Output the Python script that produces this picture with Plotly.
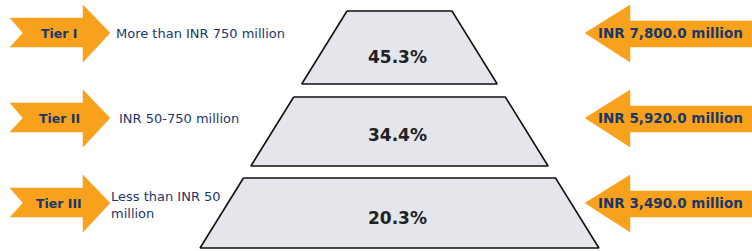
import plotly.graph_objects as go

# ---- data ----
tiers = ["Tier I", "Tier II", "Tier III"]
ranges = ["More than INR 750 million", "INR 50-750 million", "Less than INR 50<br>million"]
values_inr_mn = [7800.0, 5920.0, 3490.0]
shares_pct = [45.3, 34.4, 20.3]

# ---- styling / layout constants ----
W, H = 752, 251
ORANGE = "#F8A11D"
NAVY = "#1B3768"
FILL = "#E4E6EC"
row_center = [33, 118, 203]
range_dy = [0, 0, 2]
band_top = [11, 97, 178]
band_bot = [84, 166, 248]
pct_y = [57, 135, 218]
range_x = [114, 117, 109]
cx = 399.5
top_half = 52.5
slope = 0.62

fig = go.Figure()

def half(y):
    return top_half + (y - band_top[0]) * slope

for i in range(len(tiers)):
    yc = row_center[i]
    # left arrow (pointing right) with notched tail
    lx = [10, 83, 83, 110, 83, 83, 10, 23, 10]
    ly = [yc - 15, yc - 15, yc - 28, yc, yc + 29, yc + 14, yc + 14, yc, yc - 15]
    fig.add_trace(go.Scatter(x=lx, y=ly, fill="toself", fillcolor=ORANGE,
                             mode="lines", line=dict(color=ORANGE, width=0.5),
                             hoverinfo="skip", showlegend=False))
    # right arrow (pointing left)
    rx = [585, 630, 630, 760, 760, 630, 630, 585]
    ry = [yc, yc - 28, yc - 12, yc - 12, yc + 14, yc + 14, yc + 29, yc]
    fig.add_trace(go.Scatter(x=rx, y=ry, fill="toself", fillcolor=ORANGE,
                             mode="lines", line=dict(color=ORANGE, width=0.5),
                             hoverinfo="skip", showlegend=False))
    # pyramid band
    t, b = band_top[i], band_bot[i]
    px = [cx - half(t), cx + half(t), cx + half(b), cx - half(b), cx - half(t)]
    py = [t, t, b, b, t]
    fig.add_trace(go.Scatter(x=px, y=py, fill="toself", fillcolor=FILL,
                             mode="lines", line=dict(color="#111111", width=1.6),
                             hoverinfo="skip", showlegend=False))

    fig.add_annotation(x=59, y=yc, text="<b>%s</b>" % tiers[i], showarrow=False,
                       font=dict(family="DejaVu Sans", size=12.5, color=NAVY),
                       xanchor="center", yanchor="middle")
    fig.add_annotation(x=range_x[i], y=yc + range_dy[i], text=ranges[i],
                       showarrow=False, align="left",
                       font=dict(family="DejaVu Sans", size=13, color=NAVY),
                       xanchor="left", yanchor="middle")
    fig.add_annotation(x=670.5, y=yc, text="<b>INR {:,.1f} million</b>".format(values_inr_mn[i]),
                       showarrow=False,
                       font=dict(family="DejaVu Sans", size=13.5, color=NAVY),
                       xanchor="center", yanchor="middle")
    fig.add_annotation(x=cx - 2, y=pct_y[i], text="<b>{:.1f}%</b>".format(shares_pct[i]),
                       showarrow=False,
                       font=dict(family="DejaVu Sans", size=17, color="#222222"),
                       xanchor="center", yanchor="middle")

fig.update_layout(
    width=W, height=H,
    margin=dict(l=0, r=0, t=0, b=0),
    paper_bgcolor="white", plot_bgcolor="white",
    xaxis=dict(range=[0, W], visible=False, fixedrange=True),
    yaxis=dict(range=[H, 0], visible=False, fixedrange=True),
    showlegend=False,
)

fig.write_html("out.html", config={"displayModeBar": False},
               post_script="document.body.style.margin='0';document.body.style.overflow='hidden';")
